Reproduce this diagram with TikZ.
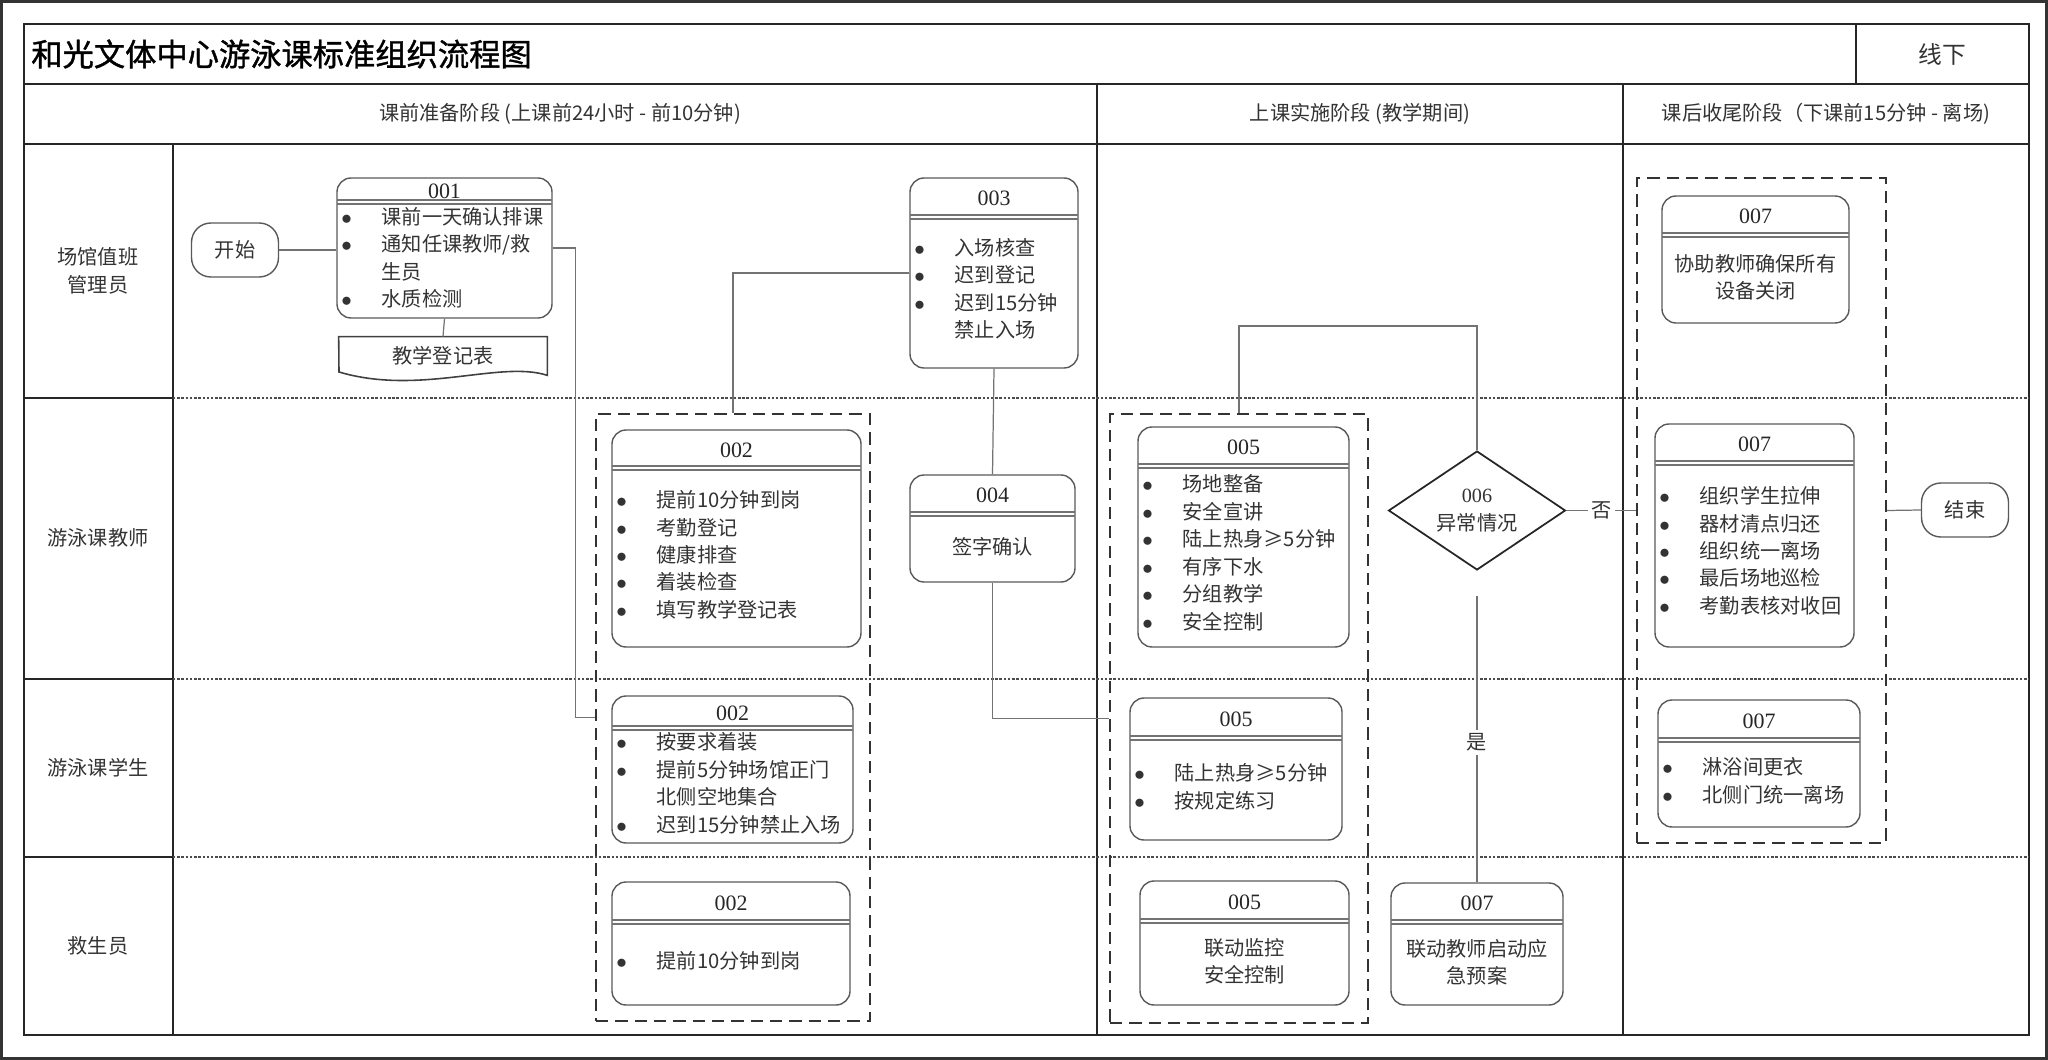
\documentclass[tikz,border=0pt]{standalone}
\usepackage{fontspec}
\setmainfont{Noto Sans CJK SC}
\newfontfamily\numfont{Liberation Serif}
\newfontfamily\titlefont[FakeBold=1.2]{Noto Sans CJK SC}
\usetikzlibrary{shapes.geometric,calc}
\begin{document}
\begin{tikzpicture}[x=0.02cm,y=-0.02cm,
  frame/.style={line width=1.1pt,black!85},
  lanesep/.style={line width=1.4pt,black!70,densely dotted},
  proc/.style={draw=black!65,line width=0.8pt,rounded corners=8pt,inner sep=0pt},
  group/.style={draw=black!80,line width=1.1pt,dash pattern=on 7pt off 4pt,inner sep=0pt},
  hdr/.style={font=\numfont\fontsize{12.5}{14}\selectfont,text=black!85,inner sep=0pt},
  sep/.style={draw=black!55,line width=0.7pt},
  conn/.style={draw=black!55,line width=0.7pt},
  txt/.style={font=\fontsize{11.5}{15.6}\selectfont,text=black!80,inner sep=0pt},
  items/.style={txt,anchor=west,align=left},
  term/.style={draw=black!65,line width=0.8pt,rounded corners=11pt,
    minimum width=1.74cm,minimum height=1.08cm,txt},
  lbl/.style={txt,fill=white,inner sep=2pt}]
\useasboundingbox (0,0) rectangle (2048,1060);

% frame and lanes
\draw[line width=1.7pt,black!80] (1.5,1.5) rectangle (2046.5,1058.5);
\draw[frame] (24,24) rectangle (2029,1035);
\draw[frame] (24,84) -- (2029,84);
\draw[frame] (24,144) -- (2029,144);
\draw[frame] (1856,24) -- (1856,84);
\draw[frame] (173,144) -- (173,1035);
\foreach \x in {1097,1623}
  \draw[frame] (\x,84) -- (\x,1035);
\foreach \y in {398,679,857} {
  \draw[frame] (24,\y) -- (173,\y);
  \draw[lanesep] (173,\y) -- (2029,\y);
}

\node[anchor=west,font=\titlefont\fontsize{17.8}{20}\selectfont,inner sep=0pt] (title) at (31,54) {和光文体中心游泳课标准组织流程图};
\node[txt,font=\fontsize{13.5}{16}\selectfont] (mode) at (1942,54) {线下};

\node[txt] (ph1) at (560,114) {课前准备阶段 (上课前24小时 - 前10分钟)};
\node[txt] (ph2) at (1360,114) {上课实施阶段 (教学期间)};
\node[txt] (ph3) at (1826,114) {课后收尾阶段（下课前15分钟 - 离场)};

\node[txt,align=center] (ln1) at (98,271) {场馆值班\\管理员};
\node[txt] (ln2) at (98,538) {游泳课教师};
\node[txt] (ln3) at (98,768) {游泳课学生};
\node[txt] (ln4) at (98,946) {救生员};

% dashed groups
\node[group,minimum width=5.48cm,minimum height=12.14cm] (g002) at (733,717.5) {};
\node[group,minimum width=5.16cm,minimum height=12.18cm] (g005) at (1239,718.5) {};
\node[group,minimum width=4.98cm,minimum height=13.3cm] (g007) at (1761.5,510.5) {};

% process boxes
\foreach \nm/\xa/\ya/\xb/\yb/\hd/\id in {
  b001/337/178/552/318/24/001, b003/910/178/1078/368/39/003,
  b004/910/475/1075/582/39/004, b002t/612/430/861/647/38/002,
  b002s/612/696/853/843/32/002, b002l/612/882/850/1005/40/002,
  b005t/1138/427/1349/647/39/005, b005s/1130/698/1342/840/40/005,
  b005l/1140/881/1349/1005/40/005, b007e/1391/883/1563/1005/39/007,
  b007a/1662/196/1849/323/39/007, b007t/1655/424/1854/647/39/007,
  b007s/1658/700/1860/827/40/007} {
  \node[proc,minimum width={(\xb-\xa)*0.02cm},minimum height={(\yb-\ya)*0.02cm}]
    (\nm) at ({(\xa+\xb)/2},{(\ya+\yb)/2}) {};
  \node[hdr] (\nm-h) at ({(\xa+\xb)/2},{\ya+\hd/2+1}) {\id};
  \draw[sep] (\xa,{\ya+\hd-2}) -- (\xb,{\ya+\hd-2});
  \draw[sep] (\xa,{\ya+\hd+2}) -- (\xb,{\ya+\hd+2});
}

\node[items] (c001) at (341,260) {\begin{tabular}{@{}l@{\hspace{17pt}}l@{}}
  $\bullet$ & 课前一天确认排课\\ $\bullet$ & 通知任课教师/救\\ & 生员\\ $\bullet$ & 水质检测\end{tabular}};
\node[items] (c003) at (914,291) {\begin{tabular}{@{}l@{\hspace{17pt}}l@{}}
  $\bullet$ & 入场核查\\ $\bullet$ & 迟到登记\\ $\bullet$ & 迟到15分钟\\ & 禁止入场\end{tabular}};
\node[items] (c002t) at (616,557) {\begin{tabular}{@{}l@{\hspace{17pt}}l@{}}
  $\bullet$ & 提前10分钟到岗\\ $\bullet$ & 考勤登记\\ $\bullet$ & 健康排查\\
  $\bullet$ & 着装检查\\ $\bullet$ & 填写教学登记表\end{tabular}};
\node[items] (c002s) at (616,785.5) {\begin{tabular}{@{}l@{\hspace{17pt}}l@{}}
  $\bullet$ & 按要求着装\\ $\bullet$ & 提前5分钟场馆正门\\ & 北侧空地集合\\
  $\bullet$ & 迟到15分钟禁止入场\end{tabular}};
\node[items] (c002l) at (616,963) {\begin{tabular}{@{}l@{\hspace{17pt}}l@{}}
  $\bullet$ & 提前10分钟到岗\end{tabular}};
\node[items] (c005t) at (1142,555) {\begin{tabular}{@{}l@{\hspace{17pt}}l@{}}
  $\bullet$ & 场地整备\\ $\bullet$ & 安全宣讲\\ $\bullet$ & 陆上热身≥5分钟\\
  $\bullet$ & 有序下水\\ $\bullet$ & 分组教学\\ $\bullet$ & 安全控制\end{tabular}};
\node[items] (c005s) at (1134,789) {\begin{tabular}{@{}l@{\hspace{17pt}}l@{}}
  $\bullet$ & 陆上热身≥5分钟\\ $\bullet$ & 按规定练习\end{tabular}};
\node[items] (c007t) at (1659,553) {\begin{tabular}{@{}l@{\hspace{17pt}}l@{}}
  $\bullet$ & 组织学生拉伸\\ $\bullet$ & 器材清点归还\\ $\bullet$ & 组织统一离场\\
  $\bullet$ & 最后场地巡检\\ $\bullet$ & 考勤表核对收回\end{tabular}};
\node[items] (c007s) at (1662,783) {\begin{tabular}{@{}l@{\hspace{17pt}}l@{}}
  $\bullet$ & 淋浴间更衣\\ $\bullet$ & 北侧门统一离场\end{tabular}};
\node[txt] (c004) at (992.5,547) {签字确认};
\node[txt,align=center] (c005l) at (1244.5,961.5) {联动监控\\安全控制};
\node[txt,align=center] (c007e) at (1477,962) {联动教师启动应\\急预案};
\node[txt,align=center] (c007a) at (1755.5,277.5) {协助教师确保所有\\设备关闭};

% terminals, document, decision
\node[term] (start) at (235,250) {开始};
\node[term] (end) at (1965,510) {结束};
\node[txt,minimum width=4.16cm,minimum height=0.76cm] (doc) at (443,356) {教学登记表};
\draw[draw=black!75,line width=0.9pt] (doc.north west) -- (doc.north east) -- (doc.south east)
  .. controls (500,360) and (420,396) .. (339,372) -- cycle;
\node[diamond,draw=black!85,line width=1pt,aspect=1.49,minimum width=3.54cm,
  minimum height=2.38cm,txt,align=center] (d006) at (1477,510.5) {{\numfont 006}\\异常情况};

% connectors
\coordinate (loop) at (1239,326);
\draw[conn] (start.east) -- (b001.west |- start.east);
\draw[conn] (b001.south) -- (doc.north);
\draw[conn] (b001.east) -- ++(23,0) |- (g002.west);
\draw[conn] (b003.west) -| (g002.north);
\draw[conn] (b003.south) -- (b004.north);
\draw[conn] (b004.south) |- (g005.west);
\draw[conn] (d006.north) |- (loop) -- (g005.north);
\draw[conn] (d006.east) -- node[lbl] {否} (g007.west);
\draw[conn] (g007.east) -- (end.west);
\draw[conn,shorten <=0.5cm] (d006.south) -- node[lbl,pos=0.55] {是} (b007e.north);
\end{tikzpicture}
\end{document}
